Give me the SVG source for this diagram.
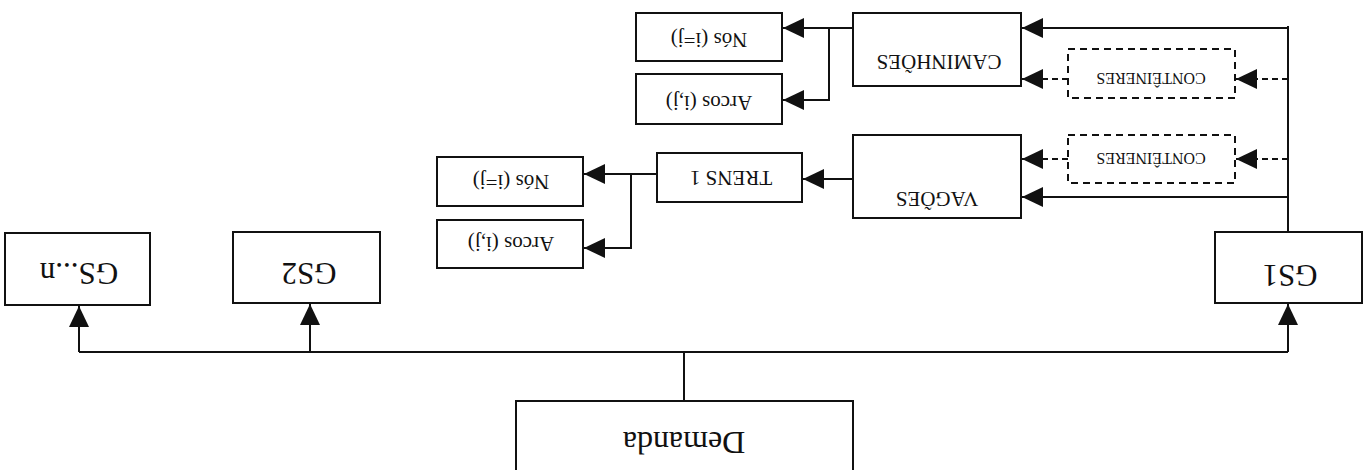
<svg xmlns="http://www.w3.org/2000/svg" width="1370" height="470" viewBox="0 0 1370 470">
  <style>
    .box { fill: #ffffff; stroke: #111111; stroke-width: 2; }
    .dbox { fill: #ffffff; stroke: #111111; stroke-width: 2; stroke-dasharray: 7 5; }
    .ln { fill: none; stroke: #111111; stroke-width: 2; }
    .arr { fill: none; stroke: #111111; stroke-width: 2; marker-end: url(#head); }
    .darr { fill: none; stroke: #111111; stroke-width: 2; stroke-dasharray: 6 4; marker-end: url(#head); }
    text { font-family: "Liberation Serif", "Times New Roman", serif; fill: #111111; text-anchor: middle; }
    .big { font-size: 31px; }
    .dem { font-size: 32px; }
    .mid { font-size: 21px; }
    .sml { font-size: 16px; }
  </style>
  <defs>
    <marker id="head" markerUnits="userSpaceOnUse" markerWidth="22" markerHeight="20" refX="21" refY="10" orient="auto">
      <path d="M0,0 L21,10 L0,20 Z" fill="#111111"/>
    </marker>
  </defs>
  <rect width="1370" height="470" fill="#ffffff"/>

  <!-- connectors -->
  <g id="connectors">
    <polyline class="ln" points="684,401 684,352"/>
    <polyline class="ln" points="79,352 1288,352"/>
    <polyline class="arr" points="79,352 79,306"/>
    <polyline class="arr" points="310,352 310,304"/>
    <polyline class="arr" points="1288,352 1288,304"/>
    <polyline class="ln" points="1288,232 1288,26"/>
    <polyline class="arr" points="1288,28 1022,28"/>
    <polyline class="darr" points="1288,79 1236,79"/>
    <polyline class="darr" points="1068,79 1022,79"/>
    <polyline class="darr" points="1288,159 1236,159"/>
    <polyline class="darr" points="1068,159 1022,159"/>
    <polyline class="arr" points="1288,197 1022,197"/>
    <polyline class="arr" points="853,179 803,179"/>
    <polyline class="arr" points="657,174 584,174"/>
    <polyline class="arr" points="631,174 631,248 584,248"/>
    <polyline class="arr" points="853,28 783,28"/>
    <polyline class="arr" points="829,28 829,100 783,100"/>
  </g>

  <!-- nodes (labels printed upside down) -->
  <g id="demanda">
    <rect class="box" x="516" y="401" width="337" height="80"/>
    <text class="dem" x="684" y="432" transform="rotate(180 684 432)">Demanda</text>
  </g>
  <g id="gsn">
    <rect class="box" x="5" y="233" width="145" height="72"/>
    <text class="big" x="79" y="263" transform="rotate(180 79 263)">GS...n</text>
  </g>
  <g id="gs2">
    <rect class="box" x="233" y="232" width="147" height="71"/>
    <text class="big" x="309" y="263" transform="rotate(180 309 263)">GS2</text>
  </g>
  <g id="gs1">
    <rect class="box" x="1215" y="232" width="147" height="71"/>
    <text class="big" x="1290" y="265" transform="rotate(180 1290 265)">GS1</text>
  </g>
  <g id="caminhoes">
    <rect class="box" x="853" y="13" width="168" height="73"/>
    <text class="mid" x="939" y="55" transform="rotate(180 939 55)">CAMINHÕES</text>
  </g>
  <g id="conteineres-1">
    <rect class="dbox" x="1068" y="49" width="167" height="49"/>
    <text class="sml" x="1151" y="73" transform="rotate(180 1151 73)">CONTÊINERES</text>
  </g>
  <g id="vagoes">
    <rect class="box" x="853" y="135" width="168" height="83"/>
    <text class="mid" x="937" y="192" transform="rotate(180 937 192)">VAGÕES</text>
  </g>
  <g id="conteineres-2">
    <rect class="dbox" x="1068" y="135" width="167" height="48"/>
    <text class="sml" x="1151" y="153" transform="rotate(180 1151 153)">CONTÊINERES</text>
  </g>
  <g id="trens">
    <rect class="box" x="657" y="153" width="145" height="49"/>
    <text class="mid" x="731" y="171" transform="rotate(180 731 171)">TRENS 1</text>
  </g>
  <g id="nos-trens">
    <rect class="box" x="437" y="157" width="146" height="49"/>
    <text class="mid" x="511" y="175" transform="rotate(180 511 175)">Nós (i=j)</text>
  </g>
  <g id="arcos-trens">
    <rect class="box" x="437" y="220" width="146" height="48"/>
    <text class="mid" x="511" y="237" transform="rotate(180 511 237)">Arcos (i,j)</text>
  </g>
  <g id="nos-caminhoes">
    <rect class="box" x="636" y="13" width="146" height="48"/>
    <text class="mid" x="709" y="33" transform="rotate(180 709 33)">Nós (i=j)</text>
  </g>
  <g id="arcos-caminhoes">
    <rect class="box" x="636" y="74" width="146" height="50"/>
    <text class="mid" x="709" y="96" transform="rotate(180 709 96)">Arcos (i,j)</text>
  </g>
</svg>
